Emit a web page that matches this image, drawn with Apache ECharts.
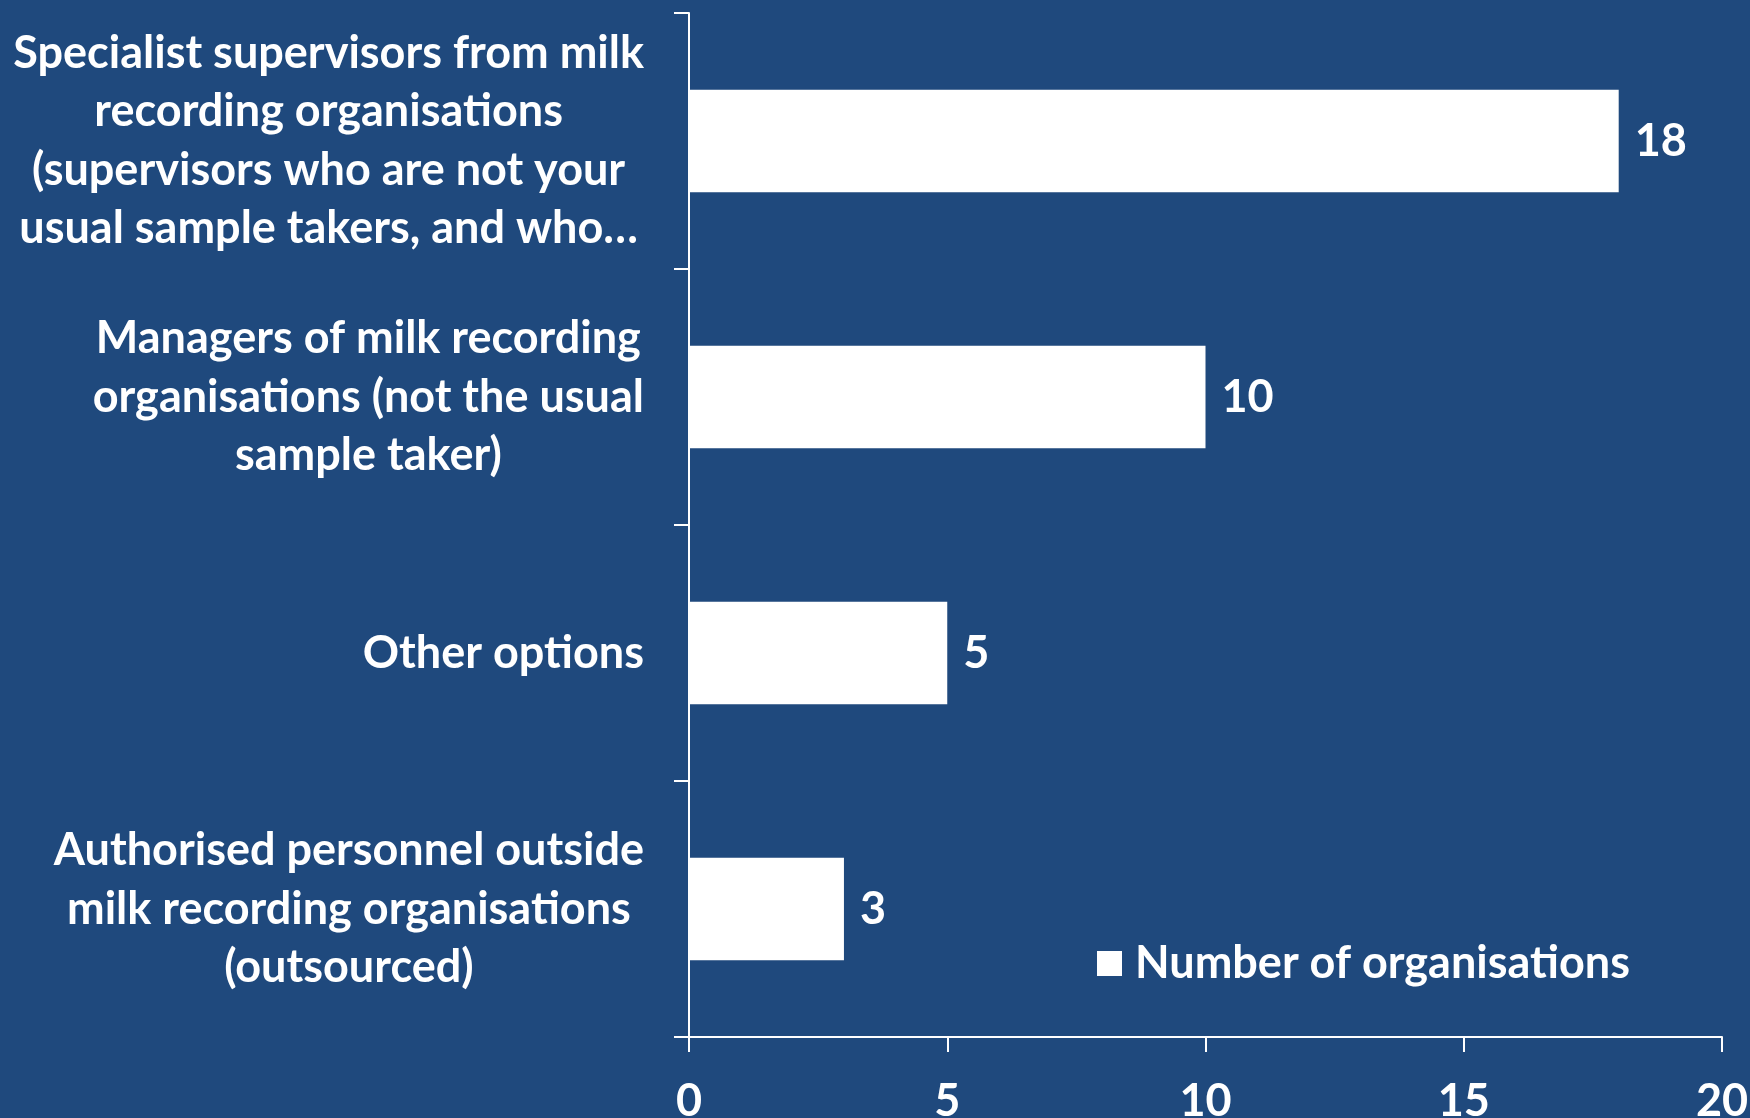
<!DOCTYPE html>
<html>
<head>
<meta charset="utf-8">
<title>Sample supervision</title>
<script src="https://cdn.jsdelivr.net/npm/echarts@6/dist/echarts.min.js"></script>
<style>
  html, body { margin: 0; padding: 0; background: #1F497D; }
  #chart { width: 1750px; height: 1118px; }
</style>
</head>
<body>
<div id="chart"></div>
<script>
// Who supervises milk sampling: categories listed top to bottom
const categories = [
  'Specialist supervisors from milk\nrecording organisations\n(supervisors who are not your\nusual sample takers, and who…',
  'Managers of milk recording\norganisations (not the usual\nsample taker)',
  'Other options',
  'Authorised personnel outside\nmilk recording organisations\n(outsourced)'
];
const seriesName = 'Number of organisations';
const counts = [18, 10, 5, 3];
const xTicks = { min: 0, max: 20, interval: 5 };

const FONT = 'Lato';
const WHITE = '#FFFFFF';
const SIZE = 45;

const chart = echarts.init(document.getElementById('chart'), null, { renderer: 'canvas' });

chart.setOption({
  backgroundColor: '#1F497D',
  animation: false,
  grid: {
    left: 689, right: 28, top: 13, bottom: 81,
    containLabel: false,
    outerBoundsMode: 'none'
  },
  legend: {
    data: [seriesName],
    left: 1092,
    top: 936,
    icon: 'rect',
    itemWidth: 25,
    itemHeight: 25,
    textStyle: {
      color: WHITE, fontFamily: FONT, fontWeight: 'bold', fontSize: SIZE,
      padding: [0, 0, 0, 8]
    }
  },
  xAxis: {
    type: 'value',
    min: xTicks.min,
    max: xTicks.max,
    interval: xTicks.interval,
    axisLine: { show: true, lineStyle: { color: WHITE, width: 2 } },
    axisTick: { show: true, length: 15, lineStyle: { color: WHITE, width: 2 } },
    splitLine: { show: false },
    axisLabel: {
      color: WHITE, fontFamily: FONT, fontWeight: 'bold', fontSize: SIZE,
      margin: 42
    }
  },
  yAxis: {
    type: 'category',
    inverse: true,
    data: categories,
    axisLine: { show: true, lineStyle: { color: WHITE, width: 2 } },
    axisTick: { show: true, length: 15, alignWithLabel: false, lineStyle: { color: WHITE, width: 2 } },
    axisLabel: {
      margin: 45,
      align: 'right',
      formatter: function (v) {
        return v.split('\n').map(function (l) { return '{c|' + l + '}'; }).join('\n');
      },
      rich: {
        c: {
          align: 'center',
          color: WHITE, fontFamily: FONT, fontWeight: 'bold', fontSize: SIZE,
          lineHeight: 58.6
        }
      }
    }
  },
  series: [{
    name: seriesName,
    type: 'bar',
    data: counts,
    barWidth: '40%',
    itemStyle: { color: WHITE },
    label: {
      show: true,
      position: 'right',
      distance: 16,
      padding: [6, 0, 0, 0],
      color: WHITE, fontFamily: FONT, fontWeight: 'bold', fontSize: SIZE
    }
  }]
});
</script>
</body>
</html>
